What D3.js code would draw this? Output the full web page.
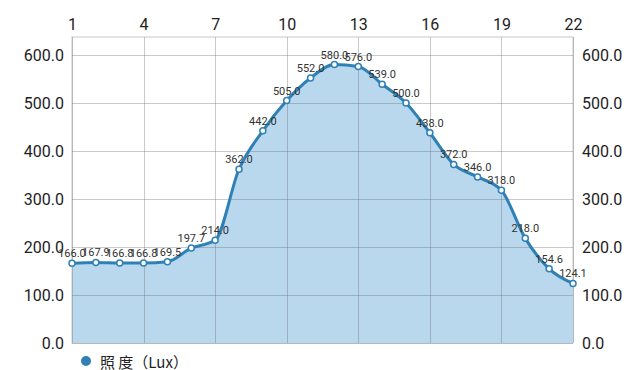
<!DOCTYPE html>
<html><head><meta charset="utf-8">
<script src="https://cdn.jsdelivr.net/npm/d3@7"></script>
<style>body{margin:0;background:#fff}svg{display:block}</style>
</head><body>
<svg id="c" width="640" height="370"></svg>
<script>
const hours = [1,2,3,4,5,6,7,8,9,10,11,12,13,14,15,16,17,18,19,20,21,22];
const lux = [166.0,167.9,166.8,166.8,169.5,197.7,214.0,362.0,442.0,505.0,552.0,580.0,576.0,539.0,500.0,438.0,372.0,346.0,318.0,218.0,154.6,124.1];
const xTicks = [1,4,7,10,13,16,19,22];
const yTicks = [0,100,200,300,400,500,600];
const seriesName = "照 度（Lux）";

const svg = d3.select("#c");
const L = 72, R = 573, T = 37, B = 343;
const x = d3.scaleLinear().domain([1,22]).range([L,R]);
const y = d3.scaleLinear().domain([0,600]).range([B,55]);
const font = "Roboto, 'Noto Sans', sans-serif";

// frame
svg.append("rect").attr("x",L).attr("y",T).attr("width",R-L).attr("height",B-T)
  .attr("fill","none").attr("stroke","#c8c8c8").attr("stroke-width",1);

// area
const area = d3.area().x((d,i)=>x(hours[i])).y0(y(0)).y1(d=>y(d)).curve(d3.curveMonotoneX);
svg.append("path").datum(lux).attr("d",area).attr("fill","#b9d8ee");

// grid
const g = svg.append("g");
g.selectAll(".hg").data(yTicks).join("line").attr("x1",L).attr("x2",R)
  .attr("y1",d=>y(d)+0.5).attr("y2",d=>y(d)+0.5).attr("stroke","#666").attr("stroke-opacity",0.35).attr("stroke-width",1);
g.selectAll(".vg").data(xTicks).join("line").attr("y1",T).attr("y2",B)
  .attr("x1",d=>Math.round(x(d))+0.5).attr("x2",d=>Math.round(x(d))+0.5).attr("stroke","#666").attr("stroke-opacity",0.35).attr("stroke-width",1);

// axes
const topAxis = d3.axisTop(x).tickValues(xTicks).tickSize(0).tickPadding(0).tickFormat(d3.format("d"));
const ta = svg.append("g").attr("transform",`translate(0,${T-7})`).call(topAxis);
ta.select(".domain").remove();
ta.selectAll("text").attr("font-family",font).attr("font-size",16).attr("fill","#222");

const leftAxis = d3.axisLeft(y).tickValues(yTicks).tickSize(0).tickPadding(0).tickFormat(d3.format(".1f"));
const la = svg.append("g").attr("transform",`translate(${L-8},0)`).call(leftAxis);
la.select(".domain").remove();
la.selectAll("text").attr("font-family",font).attr("font-size",16).attr("fill","#222");

const rightAxis = d3.axisRight(y).tickValues(yTicks).tickSize(0).tickPadding(0).tickFormat(d3.format(".1f"));
const ra = svg.append("g").attr("transform",`translate(${R+9},0)`).call(rightAxis);
ra.select(".domain").remove();
ra.selectAll("text").attr("font-family",font).attr("font-size",16).attr("fill","#222");

// line
const line = d3.line().x((d,i)=>x(hours[i])).y(d=>y(d)).curve(d3.curveMonotoneX);
svg.append("path").datum(lux).attr("d",line).attr("fill","none").attr("stroke","#2f80b5").attr("stroke-width",3);

// markers
svg.selectAll(".pt").data(lux).join("circle").attr("cx",(d,i)=>x(hours[i])).attr("cy",d=>y(d)).attr("r",3)
  .attr("fill","#fff").attr("stroke","#2f80b5").attr("stroke-width",1.5);

// labels
svg.selectAll(".lb").data(lux).join("text").attr("x",(d,i)=>x(hours[i])).attr("y",d=>y(d)-6)
  .attr("text-anchor","middle").attr("font-family",font).attr("font-size",11).attr("fill","#333")
  .text(d=>d.toFixed(1));

// legend
svg.append("circle").attr("cx",86).attr("cy",361).attr("r",5).attr("fill","#2f80b5");
svg.append("text").attr("x",100).attr("y",361).attr("dominant-baseline","central").attr("font-family","'Noto Sans CJK SC', "+font).attr("font-size",15).attr("fill","#222").text(seriesName);
</script>
</body></html>
